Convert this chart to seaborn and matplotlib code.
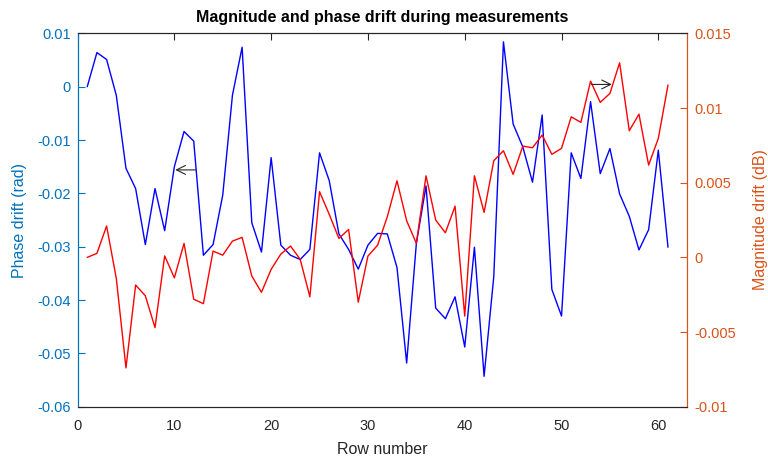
import matplotlib
matplotlib.use("Agg")
import matplotlib.pyplot as plt
import seaborn as sns
import numpy as np
import pandas as pd

rows = list(range(1, 62))
phase_drift = [
    0.0, 0.0064, 0.0051, -0.0016, -0.0153, -0.0191, -0.0296, -0.0191, -0.0270, -0.0150,
    -0.0084, -0.0102, -0.0316, -0.0296, -0.0203, -0.0016, 0.0074, -0.0255, -0.0310, -0.0133,
    -0.0297, -0.0316, -0.0324, -0.0305, -0.0124, -0.0176, -0.0276, -0.0305, -0.0342, -0.0297,
    -0.0275, -0.0276, -0.0339, -0.0518, -0.0294, -0.0186, -0.0415, -0.0435, -0.0394, -0.0488,
    -0.0301, -0.0543, -0.0356, 0.0084, -0.0070, -0.0113, -0.0179, -0.0053, -0.0380, -0.0430,
    -0.0124, -0.0172, -0.0028, -0.0163, -0.0116, -0.0201, -0.0243, -0.0306, -0.0268, -0.0119,
    -0.0301,
]
magnitude_drift = [
    0.0, 0.00027, 0.0021, -0.0014, -0.0074, -0.00185, -0.00257, -0.0047, 0.0001, -0.00137,
    0.00094, -0.0028, -0.0031, 0.00042, 0.00015, 0.00109, 0.00134, -0.00125, -0.00234, -0.0008,
    0.00022, 0.00076, -0.00013, -0.00264, 0.0044, 0.00288, 0.00127, 0.00187, -0.0030, 0.00009,
    0.00082, 0.00272, 0.00513, 0.00245, 0.00094, 0.00546, 0.0025, 0.00165, 0.00343, -0.00393,
    0.00546, 0.00301, 0.00647, 0.00714, 0.00556, 0.00745, 0.00734, 0.00819, 0.0069, 0.0073,
    0.00941, 0.00904, 0.0118, 0.01038, 0.01098, 0.01303, 0.00848, 0.00959, 0.00618, 0.00797,
    0.01154,
]
phase_ticks = [-0.06, -0.05, -0.04, -0.03, -0.02, -0.01, 0, 0.01]
phase_ticklabels = ["-0.06", "-0.05", "-0.04", "-0.03", "-0.02", "-0.01", "0", "0.01"]
mag_ticks = [-0.01, -0.005, 0, 0.005, 0.01, 0.015]
mag_ticklabels = ["-0.01", "-0.005", "0", "0.005", "0.01", "0.015"]
row_ticks = [0, 10, 20, 30, 40, 50, 60]

sns.set_style("white")
plt.rcParams["font.family"] = ["Liberation Sans", "DejaVu Sans"]

LEFT_COLOR = "#0072BD"
RIGHT_COLOR = "#D95319"
AXIS_GRAY = "#262626"

df = pd.DataFrame({"row": rows, "phase": phase_drift, "mag": magnitude_drift})

fig = plt.figure(figsize=(7.68, 4.57), dpi=100)
ax = fig.add_axes([0.101, 0.110, 0.794, 0.817])
ax2 = ax.twinx()

sns.lineplot(data=df, x="row", y="phase", ax=ax, color="blue", linewidth=1.0)
sns.lineplot(data=df, x="row", y="mag", ax=ax2, color="red", linewidth=1.0)

ax.set_xlim(0, 63)
ax.set_ylim(-0.06, 0.01)
ax2.set_ylim(-0.01, 0.015)

ax.set_xticks(row_ticks)
ax.set_yticks(phase_ticks)
ax.set_yticklabels(phase_ticklabels)
ax2.set_yticks(mag_ticks)
ax2.set_yticklabels(mag_ticklabels)

ax.tick_params(axis="x", direction="in", length=5, width=0.8, colors=AXIS_GRAY,
               labelsize=10.5, top=True, pad=9)
ax.tick_params(axis="y", direction="in", length=5, width=0.8, colors=LEFT_COLOR,
               labelsize=10.5, pad=5)
ax2.tick_params(axis="y", direction="in", length=5, width=0.8, colors=RIGHT_COLOR,
                labelsize=10.5, pad=5)
ax2.tick_params(axis="x", top=False, bottom=False)

for a in (ax, ax2):
    a.spines["top"].set_color(AXIS_GRAY)
    a.spines["bottom"].set_color(AXIS_GRAY)
    a.spines["left"].set_color(LEFT_COLOR)
    a.spines["right"].set_color(RIGHT_COLOR)
    for s in a.spines.values():
        s.set_linewidth(0.8)

ax.set_xlabel("Row number", fontsize=11.5, color=AXIS_GRAY, labelpad=6)
ax.set_ylabel("Phase drift (rad)", fontsize=11.5, color=LEFT_COLOR, labelpad=7)
ax2.set_ylabel("Magnitude drift (dB)", fontsize=11.5, color=RIGHT_COLOR, labelpad=12)
ax.set_title("Magnitude and phase drift during measurements", fontsize=11.5,
             fontweight="bold", color="black", pad=8)

# arrows pointing each curve to its own axis
arrow_style = dict(arrowstyle="->", color=AXIS_GRAY, lw=0.8, mutation_scale=16,
                   shrinkA=0, shrinkB=0)
ax.annotate("", xy=(10.1, -0.0156), xytext=(12.2, -0.0156), arrowprops=arrow_style)
ax2.annotate("", xy=(55.2, 0.01158), xytext=(53.1, 0.01158), arrowprops=arrow_style)

fig.savefig("out.png", dpi=100)
